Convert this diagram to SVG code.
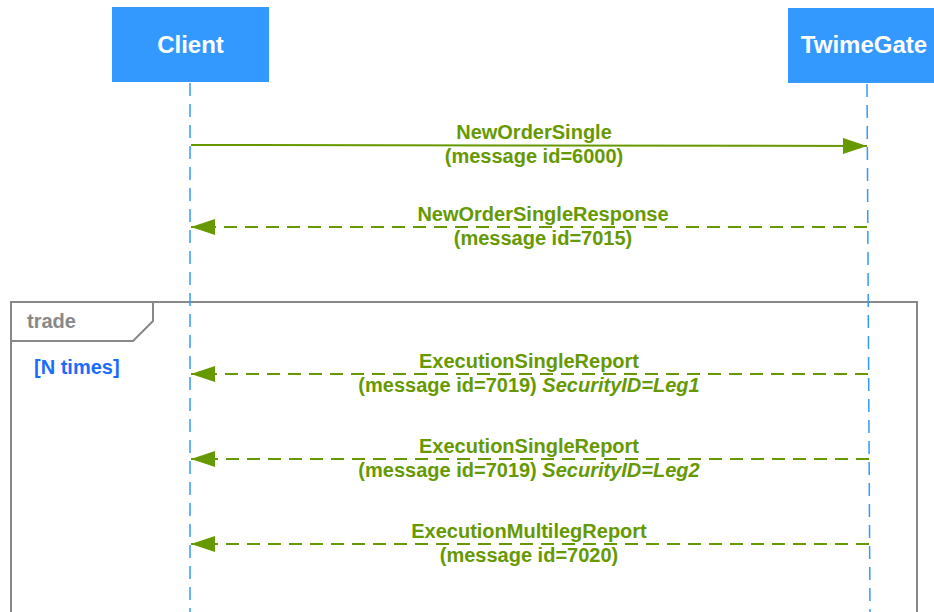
<svg xmlns="http://www.w3.org/2000/svg" width="934" height="612" viewBox="0 0 934 612">
<style>
.hdr{fill:#3399FF}
.hdrt{font-family:"Liberation Sans",Arial,sans-serif;font-weight:bold;font-size:24px;fill:#fff;text-anchor:middle}
.life{stroke:#3399FF;stroke-width:1.5;stroke-dasharray:13 8;fill:none}
.msg{stroke:#669900;stroke-width:2;fill:none}
.dash{stroke-dasharray:13 8}
.lbl{font-family:"Liberation Sans",Arial,sans-serif;font-weight:bold;font-size:20px;fill:#669900;text-anchor:middle}
.it{font-style:italic}
.frame{stroke:#888;stroke-width:2;fill:none}
.ftxt{font-family:"Liberation Sans",Arial,sans-serif;font-weight:bold;font-size:20px;fill:#888}
.guard{font-family:"Liberation Sans",Arial,sans-serif;font-weight:bold;font-size:20px;fill:#1a6cff}
</style>
<defs>
<marker id="ah" viewBox="0 0 24 16" refX="24" refY="8" markerWidth="24" markerHeight="16" markerUnits="userSpaceOnUse" orient="auto">
<path d="M0,0 L24,8 L0,16 Z" fill="#669900"/>
</marker>
</defs>
<rect width="934" height="612" fill="#fff"/>
<g id="frame-trade">
<rect class="frame" x="11" y="302" width="906" height="330"/>
<path class="frame" d="M11,341 L133,341 L153,321 L153,302"/>
<text class="ftxt" x="27" y="328">trade</text>
<text class="guard" x="34" y="374">[N times]</text>
</g>
<g id="lifelines">
<line class="life" x1="190" y1="83" x2="190" y2="612"/>
<line class="life" x1="867" y1="84" x2="870" y2="612"/>
</g>
<g id="node-client">
<rect class="hdr" x="112" y="7" width="157" height="75"/>
<text class="hdrt" x="190.5" y="53">Client</text>
</g>
<g id="node-twimegate">
<rect class="hdr" x="788" y="8" width="158" height="75"/>
<text class="hdrt" x="864" y="53">TwimeGate</text>
</g>
<g id="connectors">
<line class="msg" x1="191" y1="145" x2="867" y2="146" marker-end="url(#ah)"/>
<line class="msg dash" x1="867" y1="227" x2="191" y2="227" marker-end="url(#ah)"/>
<line class="msg dash" x1="868" y1="374" x2="191" y2="374" marker-end="url(#ah)"/>
<line class="msg dash" x1="869" y1="459" x2="191" y2="459" marker-end="url(#ah)"/>
<line class="msg dash" x1="869" y1="544" x2="191" y2="544" marker-end="url(#ah)"/>
</g>
<g id="labels">
<text class="lbl" x="534" y="139">NewOrderSingle</text>
<text class="lbl" x="534" y="163">(message id=6000)</text>
<text class="lbl" x="543" y="221">NewOrderSingleResponse</text>
<text class="lbl" x="543" y="245">(message id=7015)</text>
<text class="lbl" x="529" y="368">ExecutionSingleReport</text>
<text class="lbl" x="529" y="392">(message id=7019) <tspan class="it">SecurityID=Leg1</tspan></text>
<text class="lbl" x="529" y="453">ExecutionSingleReport</text>
<text class="lbl" x="529" y="477">(message id=7019) <tspan class="it">SecurityID=Leg2</tspan></text>
<text class="lbl" x="529" y="538">ExecutionMultilegReport</text>
<text class="lbl" x="529" y="562">(message id=7020)</text>
</g>
</svg>
